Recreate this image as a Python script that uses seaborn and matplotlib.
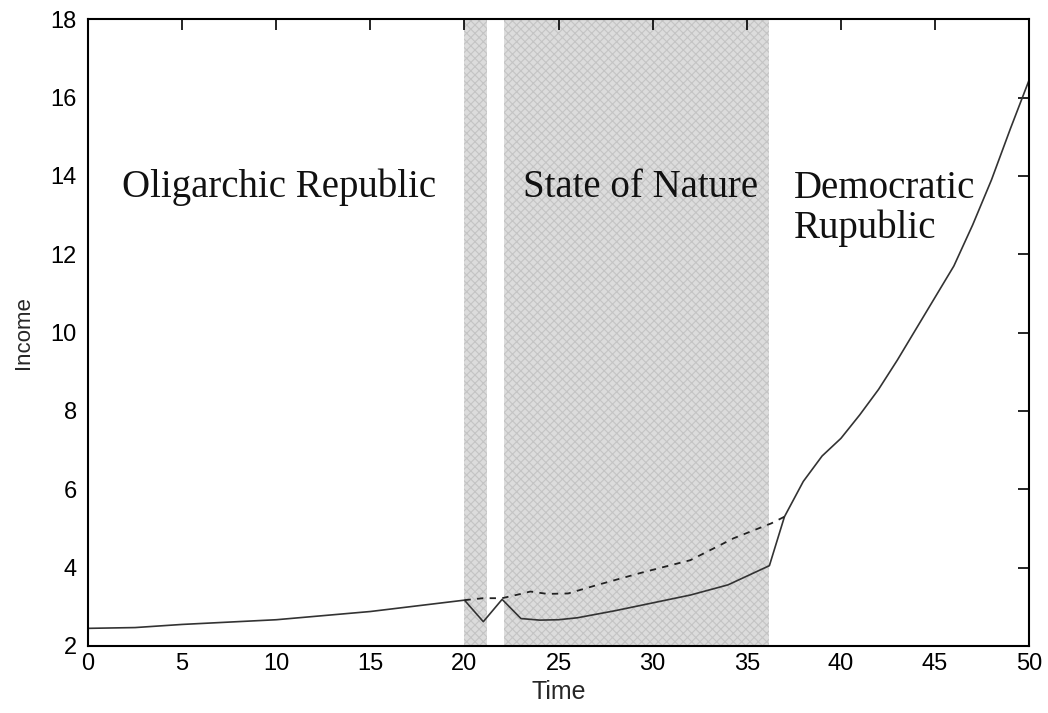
import numpy as np
import pandas as pd
import matplotlib
matplotlib.use("Agg")
import matplotlib.pyplot as plt
import seaborn as sns

# ── Data ───────────────────────────────────────────────────────────────────────
TIME_SOLID = [0, 2.5, 5, 10, 15, 20, 21, 22, 23, 24, 25, 26, 28, 30, 32, 34,
              36.2, 37, 38, 39, 40, 41, 42, 43, 44, 45, 46, 47, 48, 49, 50]
INCOME_SOLID = [2.45, 2.47, 2.55, 2.67, 2.88, 3.17, 2.62, 3.19, 2.70, 2.66, 2.67,
                2.72, 2.90, 3.10, 3.30, 3.56, 4.05, 5.30, 6.20, 6.85, 7.30, 7.90,
                8.55, 9.30, 10.10, 10.90, 11.70, 12.75, 13.90, 15.20, 16.45]

TIME_DASHED = [20, 21, 22, 23, 23.5, 24.4, 25.5, 27, 29.4, 32, 34.3, 36.3, 37]
INCOME_DASHED = [3.17, 3.22, 3.22, 3.33, 3.39, 3.33, 3.34, 3.55, 3.87, 4.19,
                 4.75, 5.13, 5.30]

SHADED_PERIODS = [(20, 21.2), (22.1, 36.2)]

X_TICKS = list(range(0, 51, 5))
Y_TICKS = list(range(2, 19, 2))

solid = pd.DataFrame({"Time": TIME_SOLID, "Income": INCOME_SOLID})
dashed = pd.DataFrame({"Time": TIME_DASHED, "Income": INCOME_DASHED})

# ── Plot ───────────────────────────────────────────────────────────────────────
sns.set_style("white")
plt.rcParams["font.family"] = ["Liberation Sans", "DejaVu Sans"]
plt.rcParams["hatch.linewidth"] = 0.8

fig = plt.figure(figsize=(10.48, 7.13), dpi=100)
ax = fig.add_axes([0.084, 0.094, 0.898, 0.879])

# speckled grey bands for the "state of nature" periods
for x0, x1 in SHADED_PERIODS:
    ax.axvspan(x0, x1, facecolor="#dcdcdc", edgecolor="#c4c4c4",
               hatch="xxxx", lw=0, zorder=0)

sns.lineplot(data=solid, x="Time", y="Income", ax=ax, color="#333333",
             linewidth=1.2, estimator=None, sort=False)
sns.lineplot(data=dashed, x="Time", y="Income", ax=ax, color="#222222",
             linewidth=1.3, linestyle=(0, (3.5, 3.5)), estimator=None, sort=False)

ax.set_xlim(0, 50)
ax.set_ylim(2, 18)
ax.set_xticks(X_TICKS)
ax.set_yticks(Y_TICKS)
ax.tick_params(direction="in", top=True, right=True, length=8, width=1.2,
               labelsize=17, colors="black")
ax.tick_params(axis="y", pad=8)
ax.tick_params(axis="x", pad=5)
for s in ax.spines.values():
    s.set_color("black")
    s.set_linewidth(1.5)
    s.set_visible(True)

ax.set_xlabel("Time", fontsize=18, labelpad=4)
ax.set_ylabel("Income", fontsize=16, labelpad=12)

serif = ["Liberation Serif", "DejaVu Serif"]
ax.text(1.8, 13.7, "Oligarchic Republic", family=serif, fontsize=28,
        va="center", ha="left", color="#111111")
ax.text(23.1, 13.7, "State of Nature", family=serif, fontsize=28,
        va="center", ha="left", color="#111111")
ax.text(37.5, 13.17, "Democratic\nRupublic", family=serif, fontsize=28,
        va="center", ha="left", color="#111111", linespacing=1.08)

fig.savefig("out.png", dpi=100, facecolor="white")
